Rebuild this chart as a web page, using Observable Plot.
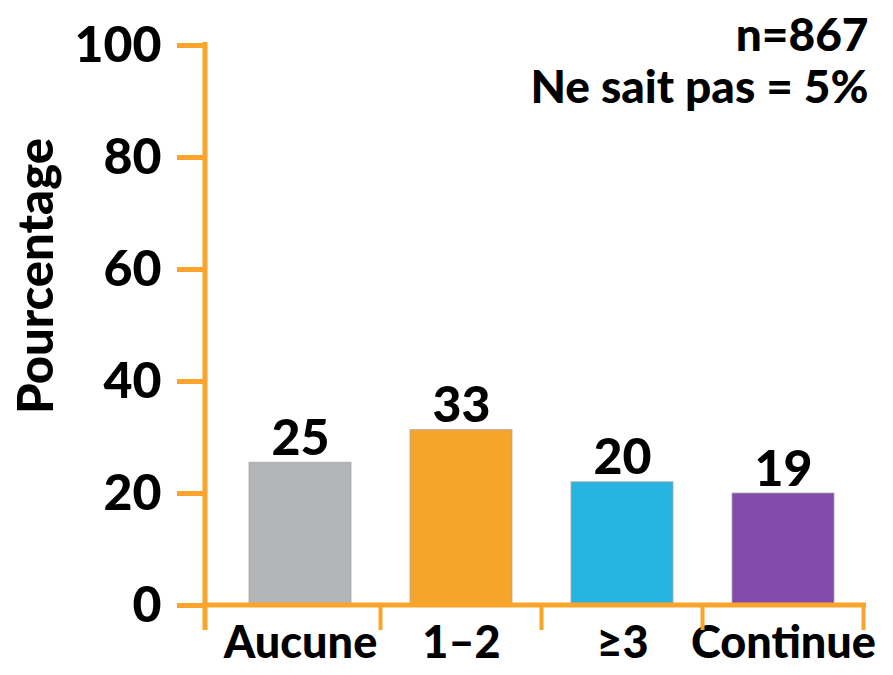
<!DOCTYPE html>
<html>
<head>
<meta charset="utf-8">
<script src="https://cdn.jsdelivr.net/npm/d3@7"></script>
<script src="https://cdn.jsdelivr.net/npm/@observablehq/plot@0.6"></script>
<style>
  html, body { margin: 0; padding: 0; background: #fff; }
  #chart { width: 893px; height: 675px; }
</style>
</head>
<body>
<div id="chart"></div>
<script>
// ---- data ----
const categories = ["Aucune", "1–2", "≥3", "Continue"];
const barHeights = [25.5, 31.3, 22, 20];          // bar tops as drawn in the picture
const valueLabels = ["25", "33", "20", "19"];       // printed values
const barColors = ["#B4B5B8", "#F5A42C", "#27B4E1", "#824AAA"];
const yTicks = [0, 20, 40, 60, 80, 100];
const yLabel = "Pourcentage";
const noteLines = ["n=867", "Ne sait pas = 5%"];

const table = categories.map((c, i) => ({
  cat: c, h: barHeights[i], label: valueLabels[i], color: barColors[i]
}));

const AXIS = "#F9A52B";
const FONT = "Lato, 'Open Sans', sans-serif";
const WEIGHT = 900;

// custom frame: y axis line and x-axis category separator ticks
function axisFrame(index, scales, values, dimensions) {
  const {marginLeft} = dimensions;
  const x = scales.x, y = scales.y;
  const g = d3.create("svg:g");
  const y0 = y(0);
  const xs = categories.map(c => x(c));
  const step = xs[1] - xs[0];
  const bw = x.bandwidth ? x.bandwidth() : step * 0.632;
  const gap = step - bw;
  const bounds = xs.slice(1).map(v => v - gap / 2);
  bounds.push(xs[xs.length - 1] + bw + gap / 2);
  g.append("line")
    .attr("x1", marginLeft).attr("x2", marginLeft)
    .attr("y1", y(100) - 3).attr("y2", y0 + 25)
    .attr("stroke", AXIS).attr("stroke-width", 5);
  g.append("line")
    .attr("x1", marginLeft).attr("x2", bounds[bounds.length - 1] + 2.5)
    .attr("y1", y0).attr("y2", y0)
    .attr("stroke", AXIS).attr("stroke-width", 5);
  for (const b of bounds) {
    g.append("line")
      .attr("x1", b).attr("x2", b)
      .attr("y1", y0).attr("y2", y0 + 25)
      .attr("stroke", AXIS).attr("stroke-width", 4);
  }
  g.append("text")
    .attr("transform", `translate(${marginLeft - 165},${(y(0) + y(100)) / 2 - 49}) rotate(-90)`)
    .attr("text-anchor", "middle")
    .attr("dominant-baseline", "middle")
    .attr("font-size", 49)
    .attr("font-weight", WEIGHT)
    .attr("fill", "#000")
    .text(yLabel);
  return g.node();
}

const chart = Plot.plot({
  width: 893,
  height: 675,
  marginLeft: 205,
  marginRight: 28,
  marginTop: 45,
  marginBottom: 70,
  style: {fontFamily: FONT, fontWeight: WEIGHT, fontSize: "48px", color: "#000", background: "#fff"},
  x: {domain: categories, range: [218, 865], paddingInner: 0.368, paddingOuter: 0.187, axis: null},
  y: {domain: [0, 100], axis: null},
  marks: [
    Plot.rectY(table, {x: "cat", y: "h", fill: "color", stroke: "#A8A8A8", strokeWidth: 0.8}),
    Plot.text(table, {x: "cat", y: "h", text: "label", lineAnchor: "bottom", dy: -8,
      fontSize: 50, fontWeight: WEIGHT, fill: "#000"}),
    Plot.axisY({ticks: yTicks, tickSize: 28, tickPadding: 16, stroke: AXIS, strokeWidth: 5,
      fontSize: 50, fill: "#000", tickFormat: d => String(d), label: null}),
    Plot.axisX({tickSize: 0, tickPadding: 21, fontSize: 45, fill: "#000", label: null}),
    axisFrame,
    Plot.text([noteLines.join("\n")], {frameAnchor: "top-right", lineAnchor: "top", textAnchor: "end",
      dx: 3, dy: -31, lineHeight: 1.12, fontSize: 46, fontWeight: WEIGHT, fill: "#000"})
  ]
});
document.getElementById("chart").appendChild(chart);
</script>
</body>
</html>
